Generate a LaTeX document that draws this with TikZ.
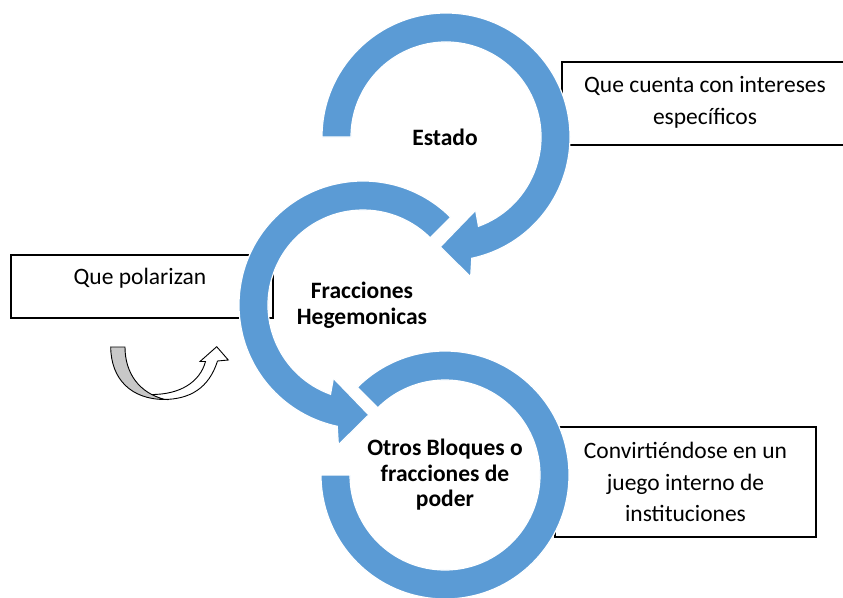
\documentclass[tikz,border=0pt]{standalone}
\usepackage{fontspec}
\setmainfont{Carlito}
\definecolor{ringblue}{HTML}{5B9BD5}
\definecolor{backgrey}{HTML}{C8C8C8}
\begin{document}
\begin{tikzpicture}[x=1pt,y=1pt,
  ring/.style={fill=ringblue,draw=white,line width=1.2pt},
  boxline/.style={draw=black,line width=1.1pt},
  boxtext/.style={font=\fontsize{23.5}{31.5}\selectfont,align=center,inner sep=0pt},
  hubtext/.style={font=\bfseries\fontsize{23.5}{25.5}\selectfont,align=center,inner sep=0pt},
  turnarrow/.style={draw=black,line width=0.9pt,line join=miter}]
\useasboundingbox (0,0) rectangle (843,-597);
\clip (0,0) rectangle (843,-597);

% text boxes (drawn under the rings)
\node[boxline, minimum width=262pt, minimum height=63pt, inner sep=0pt] (polbox) at (142,-286.5) {};
\node[boxtext] (poltext) at (140,-278) {Que polarizan};

\coordinate (intR1) at (850,-62);
\coordinate (intR2) at (850,-145);
\draw[boxline] (intR1) -| (562,-145) -- (intR2);
\node[boxtext] (inttext) at (705,-102.5) {Que cuenta con intereses\\específicos};

\node[boxline, boxtext, minimum width=261pt, minimum height=110pt] (convbox) at (685.5,-482)
  {Convirtiéndose en un\\juego interno de\\instituciones};

% top ring (Estado)
\begin{scope}[shift={(446,-137)}]
  \fill[ring] (180:124) arc[start angle=180,end angle=-78,radius=124pt]
    -- (-80:142) -- (-93:110) -- (-68:79) -- (-70:95)
    arc[start angle=-70,end angle=180,radius=95pt] -- cycle;
\end{scope}
% middle ring (Fracciones Hegemonicas)
\begin{scope}[shift={(363,-305)}]
  \fill[ring] (45:124) arc[start angle=45,end angle=258,radius=124pt]
    -- (260:142) -- (273:110) -- (248:79) -- (250:95)
    arc[start angle=250,end angle=45,radius=95pt] -- cycle;
\end{scope}
% bottom ring (Otros Bloques)
\begin{scope}[shift={(445,-475)}]
  \fill[ring] (135:124) arc[start angle=135,end angle=-180,radius=124pt]
    -- (180:95) arc[start angle=-180,end angle=135,radius=95pt] -- cycle;
\end{scope}

% hub texts
\node[hubtext] (estado) at (445,-137) {Estado};
\node[hubtext] (fracc) at (362,-305) {Fracciones\\Hegemonicas};
\node[hubtext] (otros) at (445,-475) {Otros Bloques o\\fracciones de\\poder};

% small U-turn arrow
\fill[fill=white,turnarrow] (150,-394.5) .. controls (180,-395) and (200,-382) .. (205.5,-361.5)
  -- (200,-361.5) -- (216.7,-346.7) -- (228.3,-360) -- (217.5,-361)
  .. controls (209,-388) and (190,-399.5) .. (163,-399.5) -- cycle;
\fill[fill=backgrey,turnarrow] (110.7,-347) -- (125,-347)
  .. controls (125,-373) and (139,-393) .. (165,-399.5)
  .. controls (131,-399.5) and (111,-379) .. (110.7,-347) -- cycle;
\end{tikzpicture}
\end{document}
